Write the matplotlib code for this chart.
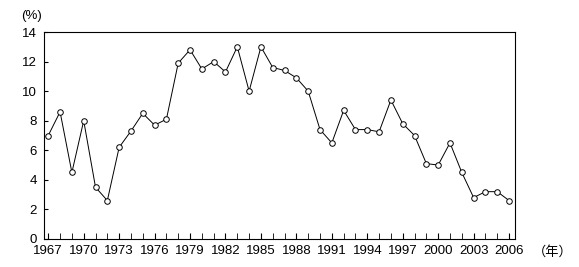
import matplotlib.pyplot as plt
import numpy as np

plt.rcParams['font.family'] = ['Liberation Sans', 'Noto Sans CJK JP', 'DejaVu Sans']

years = np.arange(1967, 2007)
rate = [7.0, 8.6, 4.5, 8.0, 3.5, 2.6, 6.2, 7.3, 8.5, 7.7,
        8.1, 11.9, 12.8, 11.5, 12.0, 11.3, 13.0, 10.0, 13.0, 11.6,
        11.4, 10.9, 10.0, 7.4, 6.5, 8.7, 7.4, 7.4, 7.25, 9.4,
        7.8, 7.0, 5.1, 5.0, 6.5, 4.5, 2.8, 3.2, 3.2, 2.6]
xlabels = np.arange(1967, 2007, 3)
ylabels = np.arange(0, 15, 2)

fig = plt.figure(figsize=(5.79, 2.67), dpi=100)
ax = fig.add_axes([0.076, 0.105, 0.813, 0.775])

ax.plot(years, rate, color='black', lw=0.7, marker='o', markersize=4,
        markerfacecolor='white', markeredgecolor='black', markeredgewidth=0.7)

ax.set_xlim(1966.64, 2006.48)
ax.set_ylim(0, 14)
ax.set_xticks(xlabels)
ax.set_xticks(years, minor=True)
ax.set_yticks(ylabels)
ax.tick_params(axis='both', which='both', direction='in', labelsize=9.5)
ax.tick_params(axis='x', which='both', length=4, pad=4.5)
ax.tick_params(axis='y', length=3, pad=5)
for s in ax.spines.values():
    s.set_linewidth(0.8)

fig.text(32 / 579, 1 - 16 / 267, '(%)', fontsize=9.5, ha='center', va='center')
fig.text(533 / 579, 1 - 252 / 267, '（年）', fontsize=9.5, ha='left', va='center')

fig.savefig('out.png', dpi=100)
